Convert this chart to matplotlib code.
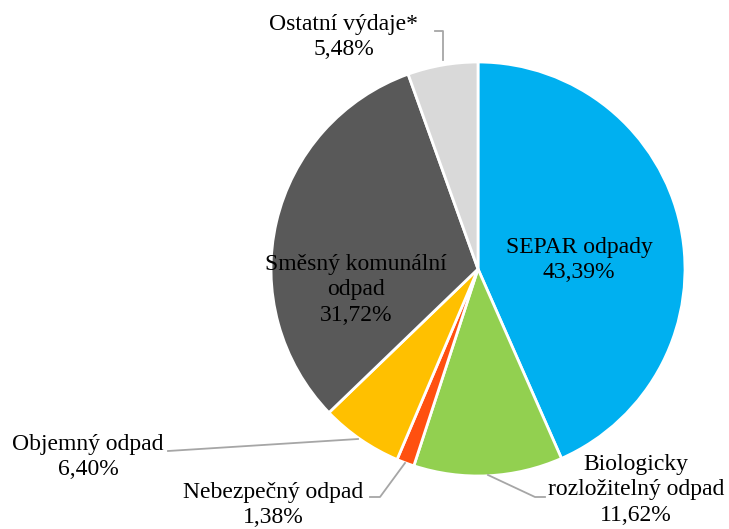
import matplotlib.pyplot as plt

# data
labels = ["SEPAR odpady", "Biologicky\nrozložitelný odpad", "Nebezpečný odpad",
          "Objemný odpad", "Směsný komunální\nodpad", "Ostatní výdaje*"]
values = [43.39, 11.62, 1.38, 6.40, 31.72, 5.48]
colors = ["#00B0F0", "#92D050", "#FF5010", "#FFC000", "#595959", "#D9D9D9"]

plt.rcParams['font.family'] = ['Liberation Serif', 'DejaVu Serif']

fig = plt.figure(figsize=(7.29, 5.29), dpi=100)
ax = fig.add_axes([0, 0, 1, 1])

W, H = 729, 529
cx, cy, r = 478, H - 269, 207

ax.pie(values, colors=colors, startangle=90, counterclock=False,
       center=(cx, cy), radius=r, frame=True,
       wedgeprops=dict(edgecolor="white", linewidth=2))
ax.set_xlim(0, W)
ax.set_ylim(0, H)
ax.set_aspect("equal")
ax.axis("off")

def txt(i, x, y, ha="center"):
    ax.text(x, H - y, labels[i] + "\n" + f"{values[i]:.2f}%".replace(".", ","),
            ha=ha, va="center", fontsize=17, linespacing=1.3, color="black")

# labels inside
txt(0, 579, 260)
txt(4, 356, 290)

# outside labels with leader lines
lc = "#A6A6A6"
txt(5, 344, 37)
ax.plot([443, 443, 435], [H - 60, H - 31, H - 31], color=lc, lw=1.3)

txt(3, 88, 457)
ax.plot([168, 358], [H - 451, H - 439], color=lc, lw=1.3)

txt(2, 273, 505)
ax.plot([370, 380, 405], [H - 497, H - 497, H - 463], color=lc, lw=1.3)

txt(1, 636, 490)
ax.plot([488, 535, 545], [H - 475, H - 497, H - 497], color=lc, lw=1.3)

fig.savefig("out.png", dpi=100)
